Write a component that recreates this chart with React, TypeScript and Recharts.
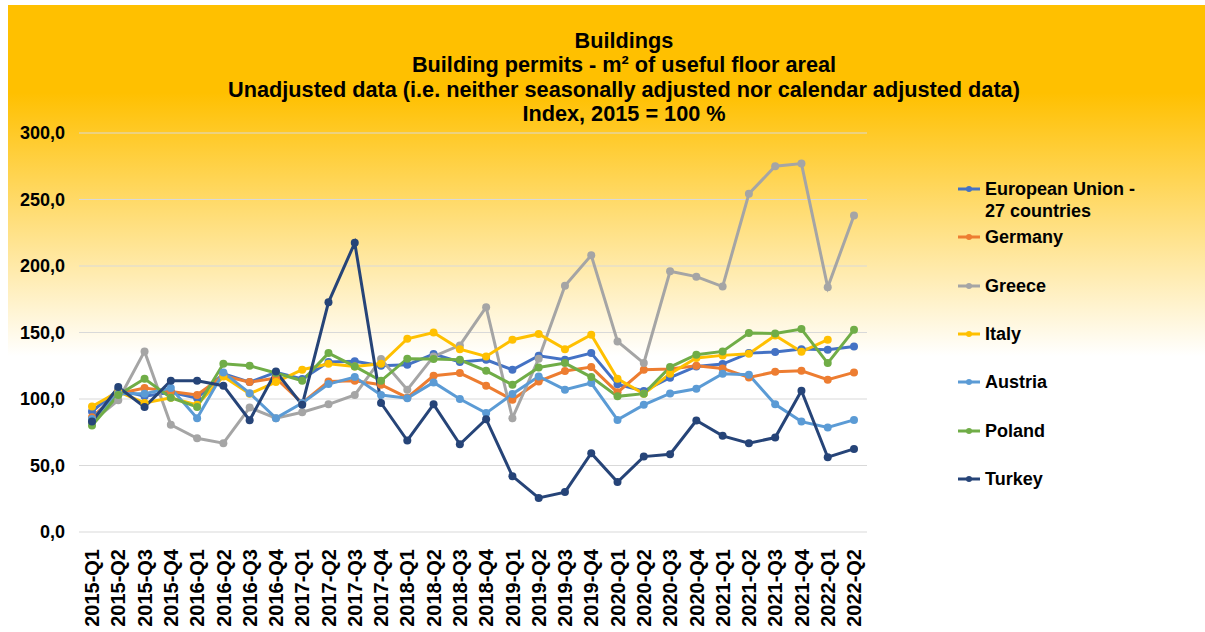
import React from "react";
import { CartesianGrid, Line, LineChart, XAxis, YAxis } from "recharts";

const quarters = [
  "2015-Q1", "2015-Q2", "2015-Q3", "2015-Q4",
  "2016-Q1", "2016-Q2", "2016-Q3", "2016-Q4",
  "2017-Q1", "2017-Q2", "2017-Q3", "2017-Q4",
  "2018-Q1", "2018-Q2", "2018-Q3", "2018-Q4",
  "2019-Q1", "2019-Q2", "2019-Q3", "2019-Q4",
  "2020-Q1", "2020-Q2", "2020-Q3", "2020-Q4",
  "2021-Q1", "2021-Q2", "2021-Q3", "2021-Q4",
  "2022-Q1", "2022-Q2",
];

const eu = [90.6, 107, 102, 105, 100.6, 119, 112.7, 120, 115, 127.8, 128.3, 125, 125.7, 133.8, 127.8, 129.5, 122, 132.5, 129.5, 134.5, 111, 106, 116, 124.5, 126.3, 134.5, 135.3, 137.5, 137, 139.5];
const germany = [86.3, 104, 108.2, 105.6, 103, 117.5, 112.7, 115.7, 97, 113.2, 113.7, 110.7, 101, 117.5, 119.5, 110, 99.4, 113.2, 121, 124, 105, 122, 122.5, 125, 123, 116.2, 120.5, 121.2, 114.5, 120];
const greece = [83, 99, 135.8, 80.6, 70.5, 66.8, 93.6, 85.6, 90, 96, 103, 130, 107, 132, 140.3, 169, 85.6, 130.3, 185.2, 208, 143.3, 127, 196, 192, 184.5, 254.3, 275, 277, 184, 238];
const italy = [94.4, 105.6, 97, 101, 95.6, 117, 104, 112.7, 122, 126.5, 124.5, 126.5, 145.3, 150, 137.5, 132, 144.6, 148.9, 137.5, 148.3, 115.2, 104, 119, 130.8, 132.8, 134, 147.8, 135.5, 144.6, null];
const austria = [85, 104, 104, 108.2, 85.6, 120, 104.4, 85.6, 97, 111.2, 116.5, 103, 100.6, 112.5, 100, 89.4, 103.7, 117, 107, 112, 84.3, 95.6, 104.2, 107.7, 119, 118.2, 96, 83, 78.6, 84.3];
const poland = [80, 103, 115.2, 101, 94, 126.5, 125, 119.5, 113.7, 134.5, 124.5, 113.7, 130.3, 130, 129.5, 121.2, 110.7, 123.7, 127, 116.5, 102, 104, 124, 133.3, 135.8, 149.6, 149.3, 152.6, 127, 152];
const turkey = [83, 109, 94, 113.7, 113.7, 110, 84, 120.7, 95.6, 172.7, 217.4, 97, 68.8, 96, 66, 84.8, 42, 25.6, 30, 59.3, 37.6, 56.7, 58.5, 83.8, 72.3, 66.8, 71, 106.2, 56.2, 62.5];

const yTicks = [0, 50, 100, 150, 200, 250, 300];

const titleLines = [
  "Buildings",
  "Building permits - m² of useful floor areal",
  "Unadjusted data (i.e. neither seasonally adjusted nor calendar adjusted data)",
  "Index, 2015 = 100 %",
];

const series = [
  { key: "eu", name: "European Union - 27 countries", values: eu, color: "#4472C4" },
  { key: "germany", name: "Germany", values: germany, color: "#ED7D31" },
  { key: "greece", name: "Greece", values: greece, color: "#A5A5A5" },
  { key: "italy", name: "Italy", values: italy, color: "#FFC000" },
  { key: "austria", name: "Austria", values: austria, color: "#5B9BD5" },
  { key: "poland", name: "Poland", values: poland, color: "#70AD47" },
  { key: "turkey", name: "Turkey", values: turkey, color: "#264478" },
];

const data = quarters.map((q, i) => {
  const row: Record<string, any> = { quarter: q };
  series.forEach((s) => {
    row[s.key] = s.values[i];
  });
  return row;
});

const FONT = "'Liberation Sans', Arial, sans-serif";

const QuarterTick = (props: any) => {
  const { x, payload } = props;
  const y = 544;
  return (
    <text
      x={x}
      y={y}
      dy="0.36em"
      transform={`rotate(-90, ${x}, ${y})`}
      textAnchor="end"
      fontFamily={FONT}
      fontWeight="bold"
      fontSize={20}
      fill="#000"
    >
      {payload.value}
    </text>
  );
};

const legendLabels: Record<string, string[]> = {
  eu: ["European Union -", "27 countries"],
};

export default function App() {
  return (
    <div
      style={{
        position: "absolute",
        left: 8,
        top: 5,
        width: 1197,
        height: 627,
        background: "linear-gradient(to bottom, #FFC000 0%, #FFC000 14%, #FFFFFF 56%, #FFFFFF 100%)",
        fontFamily: FONT,
        overflow: "hidden",
      }}
    >
      <div
        style={{
          position: "absolute",
          left: 116,
          top: 23.5,
          width: 1000,
          textAlign: "center",
          fontWeight: "bold",
          fontSize: 21.7,
          lineHeight: "24.6px",
          color: "#000",
        }}
      >
        {titleLines.map((t) => (
          <div key={t}>{t}</div>
        ))}
      </div>

      <LineChart
        width={1197}
        height={627}
        data={data}
        margin={{ top: 128, right: 338, bottom: 0, left: 0 }}
      >
        <CartesianGrid vertical={false} stroke="#D9D9D9" strokeWidth={1} />
        <XAxis
          dataKey="quarter"
          interval={0}
          axisLine={false}
          tickLine={false}
          height={100}
          padding={{ left: 13, right: 13 }}
          tick={<QuarterTick />}
        />
        <YAxis
          width={71}
          domain={[0, 300]}
          ticks={yTicks}
          axisLine={false}
          tickLine={false}
          tickSize={0}
          tickMargin={14}
          tickFormatter={(v: number) => v.toFixed(1).replace(".", ",")}
          tick={{ fill: "#000", fontSize: 18, fontWeight: "bold", fontFamily: FONT }}
        />
        {series.map((s) => (
          <Line
            key={s.key}
            dataKey={s.key}
            name={s.name}
            stroke={s.color}
            strokeWidth={3}
            dot={{ r: 4, fill: s.color, stroke: s.color, strokeWidth: 0 }}
            isAnimationActive={false}
          />
        ))}
      </LineChart>

      {series.map((s, i) => {
        const top = 184 + i * 48.3 - 11;
        const lines = legendLabels[s.key] || [s.name];
        return (
          <div key={s.key} style={{ position: "absolute", left: 950, top }}>
            <svg width={24} height={22} style={{ position: "absolute", left: 0, top: 0 }}>
              <line x1={0} y1={11} x2={22} y2={11} stroke={s.color} strokeWidth={3} />
              <circle cx={11} cy={11} r={3} fill={s.color} />
            </svg>
            <div
              style={{
                position: "absolute",
                left: 27,
                top: 0,
                fontWeight: "bold",
                fontSize: 18,
                lineHeight: "22px",
                whiteSpace: "nowrap",
                color: "#000",
              }}
            >
              {lines.map((l) => (
                <div key={l}>{l}</div>
              ))}
            </div>
          </div>
        );
      })}
    </div>
  );
}
